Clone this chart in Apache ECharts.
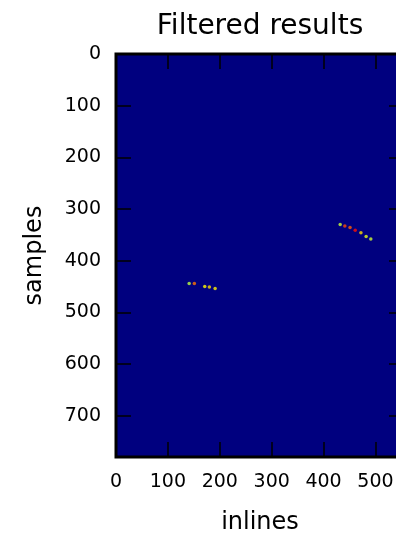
<!DOCTYPE html>
<html>
<head>
<meta charset="utf-8">
<script src="https://cdn.jsdelivr.net/npm/echarts@6/dist/echarts.min.js"></script>
<style>
html,body{margin:0;padding:0;background:#fff;}
#chart{width:396px;height:533px;}
</style>
</head>
<body>
<div id="chart"></div>
<script>
// data
var inlines   = [141, 151, 171, 180, 191, 432, 441, 451, 461, 472, 482, 491];
var samples   = [444, 444, 450, 451, 454, 330, 333, 336, 341, 346, 353, 358];
var amplitude = [0.56, 0.76, 0.63, 0.66, 0.64, 0.57, 0.80, 0.78, 0.86, 0.66, 0.60, 0.58];
var xTicks = [0, 100, 200, 300, 400, 500];
var yTicks = [0, 100, 200, 300, 400, 500, 600, 700];
var xMax = 555, yMax = 780;

var jet = ['#00007f','#0000ff','#007fff','#00ffff','#7fff7f','#ffff00','#ff7f00','#ff0000','#7f0000'];

var pts = inlines.map(function (v, i) { return [v, samples[i], amplitude[i]]; });

var font = 'DejaVu Sans';
function fmt(v){ return yTicks.indexOf(v) >= 0 || xTicks.indexOf(v) >= 0 ? String(v) : ''; }
function tick(){ return {show: true, inside: true, length: 15, lineStyle: {color: '#000', width: 1.5}}; }
function line(){ return {show: false, onZero: false}; }

var chart = echarts.init(document.getElementById('chart'), null, {renderer: 'canvas'});
chart.setOption({
  animation: false,
  backgroundColor: '#fff',
  title: {
    text: 'Filtered results',
    left: 255, top: 8, textAlign: 'center',
    textStyle: {fontFamily: font, fontSize: 28, fontWeight: 'normal', color: '#000'}
  },
  grid: {
    left: 116, top: 54, width: 288, height: 403,
    outerBoundsMode: 'none', containLabel: false,
    show: true, backgroundColor: '#00007f', borderColor: '#000', borderWidth: 3
  },
  visualMap: {show: false, min: 0, max: 1, dimension: 2, inRange: {color: jet}},
  xAxis: [{
    type: 'value', min: 0, max: xMax, interval: 100, position: 'bottom',
    name: 'inlines', nameLocation: 'middle', nameGap: 54,
    nameTextStyle: {fontFamily: font, fontSize: 24, color: '#000'},
    axisLine: line(), splitLine: {show: false},
    axisTick: tick(),
    axisLabel: {fontFamily: font, fontSize: 19, color: '#000', margin: 16, showMaxLabel: false, formatter: fmt}
  }, {
    type: 'value', min: 0, max: xMax, interval: 100, position: 'top',
    axisLine: line(), splitLine: {show: false},
    axisTick: tick(), axisLabel: {show: false}
  }],
  yAxis: [{
    type: 'value', min: 0, max: yMax, interval: 100, inverse: true, position: 'left',
    name: 'samples', nameLocation: 'middle', nameGap: 69, nameRotate: 90,
    nameTextStyle: {fontFamily: font, fontSize: 24, color: '#000'},
    axisLine: line(), splitLine: {show: false},
    axisTick: tick(),
    axisLabel: {fontFamily: font, fontSize: 19, color: '#000', margin: 15, showMaxLabel: false, formatter: fmt}
  }, {
    type: 'value', min: 0, max: yMax, interval: 100, inverse: true, position: 'right',
    axisLine: line(), splitLine: {show: false},
    axisTick: tick(), axisLabel: {show: false}
  }],
  series: [{
    type: 'scatter', xAxisIndex: 0, yAxisIndex: 0,
    symbol: 'circle', symbolSize: 3.5,
    data: pts
  }]
});
</script>
</body>
</html>
